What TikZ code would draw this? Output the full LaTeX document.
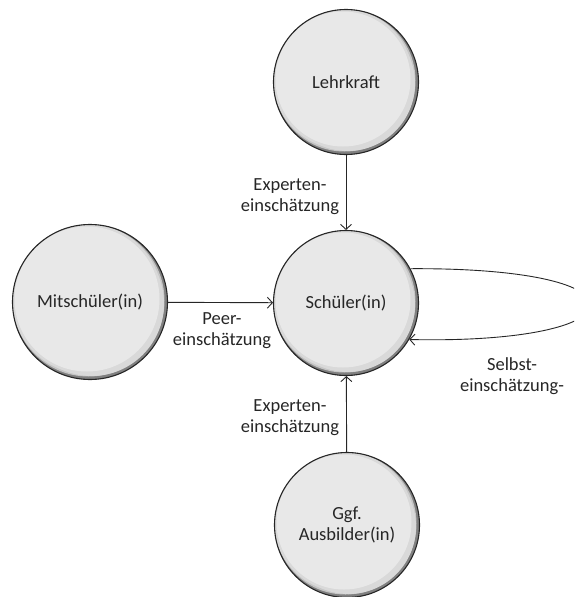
\documentclass[tikz,border=0pt]{standalone}
\usepackage{fontspec}
\setmainfont{Carlito}
\usetikzlibrary{arrows.meta}
\begin{document}
\begin{tikzpicture}[x=1pt,y=-1pt,
  agent/.style={circle, minimum size=#1, inner sep=0pt, draw=black!85,
    line width=1.1pt, align=center, text=black!85,
    font=\fontsize{18.5}{21}\selectfont,
    path picture={
      \fill[black!50] (path picture bounding box.center) circle (90pt);
      \fill[gray!45] ([shift={(-1.5pt,1.5pt)}]path picture bounding box.center) circle (0.5*#1-1.5pt);
      \fill[gray!30] ([shift={(-3pt,3pt)}]path picture bounding box.center) circle (0.5*#1-2.5pt);
      \fill[white!70!gray] ([shift={(1.5pt,-1.5pt)}]path picture bounding box.center) circle (0.5*#1-5pt);
      \fill[gray!18] ([shift={(-3pt,3pt)}]path picture bounding box.center) circle (0.5*#1-5pt);
    }},
  agent/.default=145pt,
  lbl/.style={align=center, text=black!85, font=\fontsize{18.5}{21}\selectfont, inner sep=0pt},
  arr/.style={draw=black!85, line width=0.9pt, -{Straight Barb[length=5pt,width=11pt]}}]
\useasboundingbox (0,0) rectangle (574,597);
\clip (0,0) rectangle (574,597);
\node[agent] (L) at (346,82) {Lehrkraft};
\node[agent] (S) at (346,303) {Schüler(in)};
\node[agent=155pt] (M) at (90,302) {Mitschüler(in)};
\node[agent] (A) at (347,525) {Ggf.\\Ausbilder(in)};
\node[lbl] (e1) at (290,197) {Experten-\\einschätzung};
\node[lbl] (pe) at (222,331) {Peer-\\einschätzung};
\node[lbl] (e2) at (290,418) {Experten-\\einschätzung};
\node[lbl] (se) at (512,376) {Selbst-\\einschätzung-};
\coordinate (lr) at (590,305);
\draw[arr] (L) -- (S);
\draw[arr] (M) -- (S);
\draw[arr] (A) -- (S);
\draw[arr] (S.28) .. controls (520,268) and (590,283) .. (lr) .. controls (590,326) and (520,342) .. (S.-30);
\end{tikzpicture}
\end{document}
